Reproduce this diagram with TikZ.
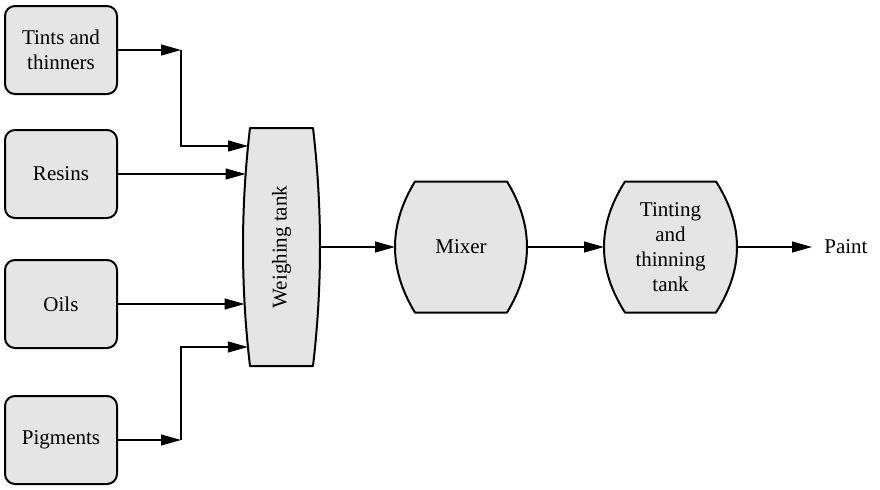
\documentclass[tikz,border=0pt]{standalone}
\usepackage{fontspec}
\setmainfont{Liberation Serif}
\usepackage{graphicx}
\usetikzlibrary{arrows.meta,backgrounds,calc}
\newcommand\drumshape[2]{%
  \begin{scope}[on background layer]
  \draw[drumline] ([xshift=#2]#1.north west) -- ([xshift=-#2]#1.north east)
    .. controls ([xshift={#2/3}]$(#1.north east)!0.3333!(#1.south east)$)
       and ([xshift={#2/3}]$(#1.north east)!0.6667!(#1.south east)$)
    .. ([xshift=-#2]#1.south east)
    -- ([xshift=#2]#1.south west)
    .. controls ([xshift={-#2/3}]$(#1.north west)!0.6667!(#1.south west)$)
       and ([xshift={-#2/3}]$(#1.north west)!0.3333!(#1.south west)$)
    .. cycle;
  \end{scope}}
\begin{document}
\begin{tikzpicture}[x=0.5pt,y=-0.5pt,
  every node/.style={font=\fontsize{10.5}{12.5}\selectfont},
  srcbox/.style={draw, line width=1pt, fill=gray!20, rounded corners=5pt,
    minimum width=56pt, minimum height=44pt, inner sep=0pt, outer sep=0pt, align=center},
  drumnode/.style={inner sep=0pt, outer sep=0pt, align=center},
  drumline/.style={draw, line width=1pt, fill=gray!20, line join=round},
  arr/.style={line width=0.6pt, -{Triangle[length=10pt,width=5.5pt]}}]
\useasboundingbox (0,0) rectangle (880,489);

\node[srcbox] (tints) at (61,50) {Tints and\\thinners};
\node[srcbox] (resins) at (61,174) {Resins};
\node[srcbox] (oils) at (61,304) {Oils};
\node[srcbox] (pigments) at (61,440) {Pigments};

\node[drumnode, minimum width=38.5pt, minimum height=119pt] (tank) at (281.5,247) {\rotatebox{90}{Weighing tank}};
\node[drumnode, minimum width=66pt, minimum height=65.5pt] (mixer) at (461,247) {Mixer};
\node[drumnode, minimum width=66.5pt, minimum height=65.5pt] (tint) at (670.5,247) {Tinting\\and\\thinning\\tank};
\node[anchor=west, inner xsep=6pt, inner ysep=2pt] (paint) at (812,247) {Paint};

\drumshape{tank}{3.5pt}
\drumshape{mixer}{10pt}
\drumshape{tint}{10.5pt}

\coordinate (j1) at (181,50);
\coordinate (j2) at (181,440);
\coordinate (t1) at (248.1,146);
\coordinate (t2) at (245.6,174);
\coordinate (t3) at (244.5,304);
\coordinate (t4) at (247.8,347);

\draw[arr] (tints.east) -- (j1);
\draw[arr] (j1) |- (t1);
\draw[arr] (resins.east) -- (t2);
\draw[arr] (oils.east) -- (t3);
\draw[arr] (pigments.east) -- (j2);
\draw[arr] (j2) |- (t4);

\draw[arr] (tank.east) -- (mixer.west);
\draw[arr] (mixer.east) -- (tint.west);
\draw[arr] (tint.east) -- (paint.west);
\end{tikzpicture}
\end{document}
